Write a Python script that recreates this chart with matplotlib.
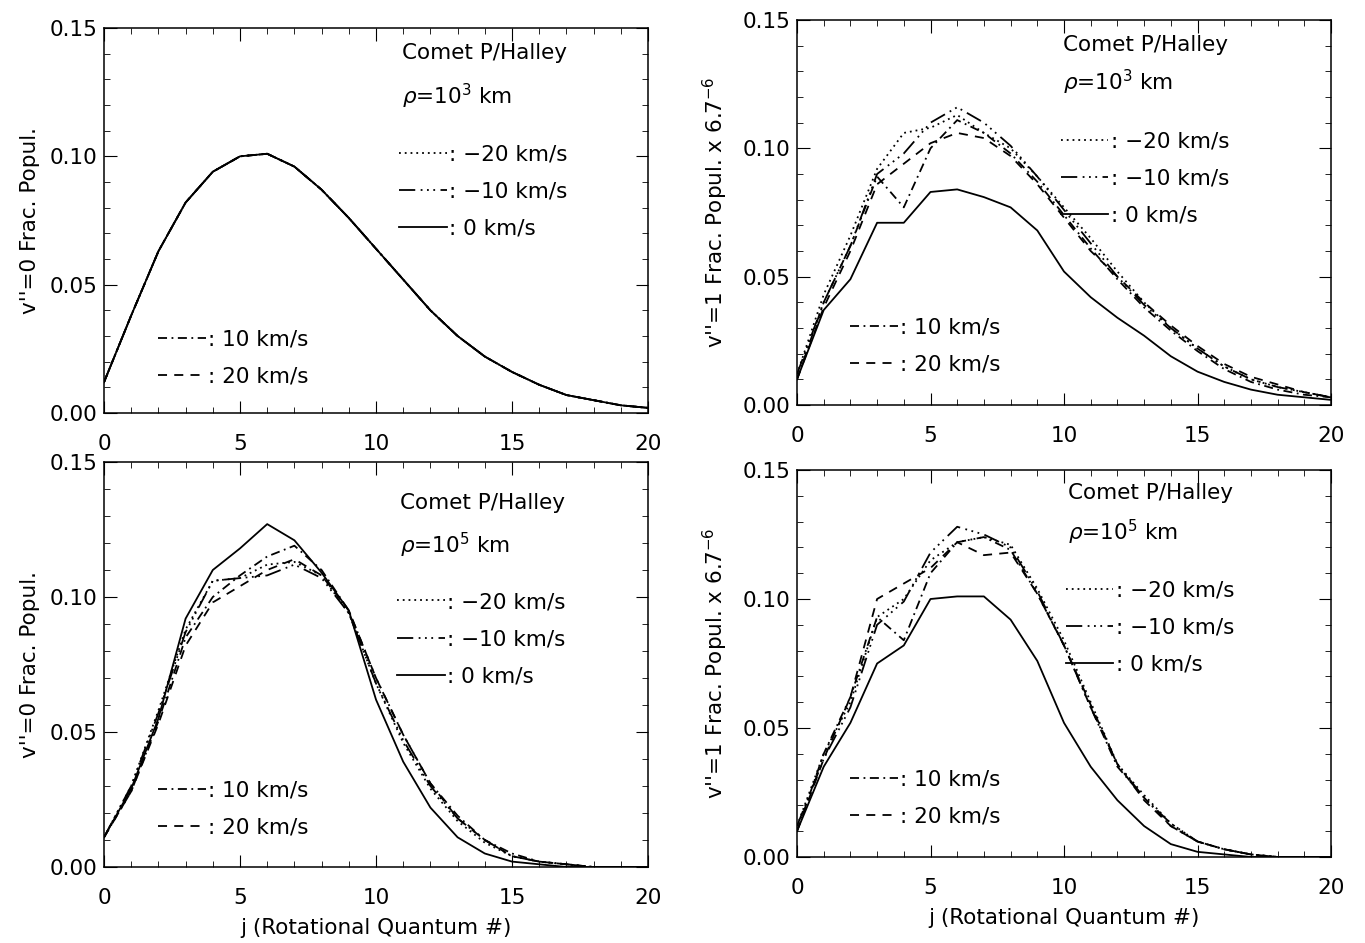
import numpy as np
import matplotlib
matplotlib.use("Agg")
import matplotlib.pyplot as plt
from matplotlib.ticker import MultipleLocator, FormatStrFormatter

j = list(range(21))

# Top-left: v''=0, rho=1e3 km (all velocities overlap)
tl_m20 = [0.012, 0.038, 0.063, 0.082, 0.094, 0.100, 0.101, 0.096, 0.087, 0.076, 0.064,
          0.052, 0.040, 0.030, 0.022, 0.016, 0.011, 0.007, 0.005, 0.003, 0.002]
tl_m10 = tl_m20
tl_0 = tl_m20
tl_p10 = tl_m20
tl_p20 = tl_m20

# Top-right: v''=1, rho=1e3 km
tr_m20 = [0.012, 0.043, 0.066, 0.092, 0.106, 0.108, 0.113, 0.106, 0.100, 0.089, 0.077,
          0.065, 0.052, 0.040, 0.030, 0.022, 0.015, 0.010, 0.007, 0.005, 0.003]
tr_m10 = [0.012, 0.040, 0.062, 0.090, 0.098, 0.110, 0.116, 0.110, 0.101, 0.089, 0.076,
          0.063, 0.050, 0.039, 0.030, 0.022, 0.015, 0.010, 0.007, 0.005, 0.003]
tr_0 = [0.010, 0.037, 0.049, 0.071, 0.071, 0.083, 0.084, 0.081, 0.077, 0.068, 0.052,
        0.042, 0.034, 0.027, 0.019, 0.013, 0.009, 0.006, 0.004, 0.003, 0.002]
tr_p10 = [0.010, 0.040, 0.062, 0.089, 0.077, 0.100, 0.111, 0.106, 0.098, 0.087, 0.074,
          0.061, 0.049, 0.038, 0.029, 0.021, 0.014, 0.009, 0.006, 0.004, 0.003]
tr_p20 = [0.010, 0.038, 0.060, 0.086, 0.094, 0.102, 0.106, 0.104, 0.097, 0.086, 0.073,
          0.060, 0.050, 0.040, 0.031, 0.023, 0.016, 0.011, 0.008, 0.005, 0.003]

# Bottom-left: v''=0, rho=1e5 km
bl_m20 = [0.011, 0.030, 0.058, 0.088, 0.106, 0.107, 0.112, 0.113, 0.108, 0.094, 0.068,
          0.046, 0.029, 0.017, 0.009, 0.004, 0.002, 0.001, 0.000, 0.000, 0.000]
bl_m10 = [0.011, 0.030, 0.057, 0.087, 0.106, 0.107, 0.108, 0.112, 0.107, 0.094, 0.068,
          0.047, 0.030, 0.018, 0.010, 0.004, 0.002, 0.001, 0.000, 0.000, 0.000]
bl_0 = [0.011, 0.029, 0.055, 0.092, 0.110, 0.118, 0.127, 0.121, 0.109, 0.095, 0.062,
        0.039, 0.022, 0.011, 0.005, 0.002, 0.001, 0.000, 0.000, 0.000, 0.000]
bl_p10 = [0.011, 0.028, 0.054, 0.085, 0.100, 0.108, 0.115, 0.119, 0.110, 0.095, 0.070,
          0.049, 0.031, 0.019, 0.010, 0.005, 0.002, 0.001, 0.000, 0.000, 0.000]
bl_p20 = [0.011, 0.028, 0.053, 0.082, 0.098, 0.104, 0.110, 0.114, 0.108, 0.095, 0.070,
          0.049, 0.031, 0.018, 0.010, 0.004, 0.002, 0.001, 0.000, 0.000, 0.000]

# Bottom-right: v''=1, rho=1e5 km
br_m20 = [0.012, 0.040, 0.060, 0.093, 0.100, 0.115, 0.122, 0.124, 0.121, 0.104, 0.084,
          0.060, 0.036, 0.024, 0.013, 0.006, 0.003, 0.001, 0.000, 0.000, 0.000]
br_m10 = [0.012, 0.038, 0.058, 0.090, 0.099, 0.118, 0.128, 0.125, 0.120, 0.103, 0.082,
          0.058, 0.036, 0.023, 0.013, 0.006, 0.003, 0.001, 0.000, 0.000, 0.000]
br_0 = [0.010, 0.035, 0.052, 0.075, 0.082, 0.100, 0.101, 0.101, 0.092, 0.076, 0.052,
        0.035, 0.022, 0.012, 0.005, 0.002, 0.001, 0.000, 0.000, 0.000, 0.000]
br_p10 = [0.010, 0.040, 0.062, 0.093, 0.084, 0.110, 0.122, 0.124, 0.119, 0.102, 0.082,
          0.058, 0.035, 0.023, 0.012, 0.006, 0.003, 0.001, 0.000, 0.000, 0.000]
br_p20 = [0.010, 0.038, 0.062, 0.100, 0.106, 0.112, 0.122, 0.117, 0.118, 0.102, 0.082,
          0.059, 0.036, 0.022, 0.012, 0.006, 0.003, 0.001, 0.000, 0.000, 0.000]

vel_labels = [": \u221220 km/s", ": \u221210 km/s", ": 0 km/s", ": 10 km/s", ": 20 km/s"]
rho_labels = [r"$\rho$=10$^3$ km", r"$\rho$=10$^3$ km", r"$\rho$=10$^5$ km", r"$\rho$=10$^5$ km"]
ylabels = ["v''=0 Frac. Popul.", r"v''=1 Frac. Popul. x 6.7$^{-6}$",
           "v''=0 Frac. Popul.", r"v''=1 Frac. Popul. x 6.7$^{-6}$"]
xlabel = "j (Rotational Quantum #)"
title_text = "Comet P/Halley"

styles = [(0, (1, 2.2)), (0, (9, 3, 1, 2.5, 1, 2.5, 1, 3)), "-", (0, (5, 2.5, 1, 2.5)), (0, (5, 4))]

FS = 15.5
plt.rcParams['font.family'] = ['DejaVu Sans']
plt.rcParams['font.size'] = FS
plt.rcParams['mathtext.fontset'] = 'dejavusans'

fig = plt.figure(figsize=(13.65, 9.43), dpi=100)
W, H = 1365.0, 943.0

def box(l, r, top, bot):
    return [l / W, 1 - bot / H, (r - l) / W, (bot - top) / H]

panels = [
    dict(pos=box(104, 648, 28, 413), data=[tl_m20, tl_m10, tl_0, tl_p10, tl_p20],
         tx=0.548, ty=[0.935, 0.823], ux=0.548, uy=0.698, lx=0.10, ly=0.218, ylx=-0.118, xly=None),
    dict(pos=box(797, 1331, 20, 405), data=[tr_m20, tr_m10, tr_0, tr_p10, tr_p20],
         tx=0.499, ty=[0.935, 0.839], ux=0.499, uy=0.711, lx=0.10, ly=0.228, ylx=-0.126, xly=None),
    dict(pos=box(104, 648, 462, 867), data=[bl_m20, bl_m10, bl_0, bl_p10, bl_p20],
         tx=0.544, ty=[0.899, 0.793], ux=0.544, uy=0.679, lx=0.10, ly=0.214, ylx=-0.118, xly=-0.127),
    dict(pos=box(797, 1331, 470, 857), data=[br_m20, br_m10, br_0, br_p10, br_p20],
         tx=0.508, ty=[0.941, 0.840], ux=0.508, uy=0.715, lx=0.10, ly=0.227, ylx=-0.126, xly=-0.133),
]

for k, p in enumerate(panels):
    ax = fig.add_axes(p['pos'])
    lines = []
    for series, ls in zip(p['data'], styles):
        ln, = ax.plot(j, series, color='black', lw=1.3, linestyle=ls)
        lines.append(ln)
    ax.set_xlim(0, 20)
    ax.set_ylim(0, 0.15)
    ax.xaxis.set_major_locator(MultipleLocator(5))
    ax.xaxis.set_minor_locator(MultipleLocator(1))
    ax.yaxis.set_major_locator(MultipleLocator(0.05))
    ax.yaxis.set_minor_locator(MultipleLocator(0.01))
    ax.yaxis.set_major_formatter(FormatStrFormatter('%.2f'))
    ax.tick_params(which='both', direction='in', top=True, right=True, labelsize=FS)
    ax.tick_params(axis='x', which='major', length=9, pad=15)
    ax.tick_params(axis='y', which='major', length=9, pad=5)
    ax.tick_params(which='minor', length=4.5)
    for s in ax.spines.values():
        s.set_linewidth(1.1)
    ax.set_ylabel(ylabels[k], fontsize=FS)
    ax.yaxis.set_label_coords(p['ylx'], 0.5)
    if p['xly'] is not None:
        ax.set_xlabel(xlabel, fontsize=FS)
        ax.xaxis.set_label_coords(0.5, p['xly'])
    ax.text(p['tx'], p['ty'][0], title_text, transform=ax.transAxes, va='center', ha='left', fontsize=FS)
    ax.text(p['tx'], p['ty'][1], rho_labels[k], transform=ax.transAxes, va='center', ha='left', fontsize=FS)
    leg1 = ax.legend(lines[:3], vel_labels[:3], loc='upper left', bbox_to_anchor=(p['ux'] - 0.005, p['uy']),
                     frameon=False, handlelength=2.2, handletextpad=0.12, labelspacing=0.8,
                     borderpad=0, borderaxespad=0, fontsize=FS)
    ax.add_artist(leg1)
    ax.legend(lines[3:], vel_labels[3:], loc='upper left', bbox_to_anchor=(p['lx'], p['ly']),
              frameon=False, handlelength=2.2, handletextpad=0.12, labelspacing=0.8,
              borderpad=0, borderaxespad=0, fontsize=FS)

fig.savefig('out.png', dpi=100)
